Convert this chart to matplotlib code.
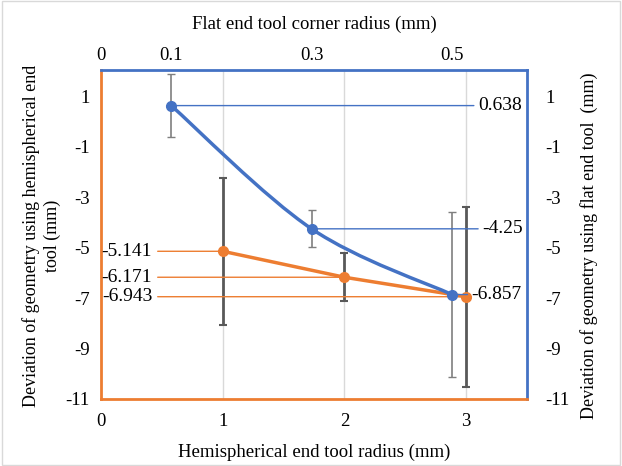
import matplotlib.pyplot as plt
from matplotlib.path import Path
from matplotlib.patches import PathPatch, Rectangle

plt.rcParams["font.family"] = ["Liberation Serif", "DejaVu Serif"]
plt.rcParams["axes.unicode_minus"] = False

# Data
hemi_radius = [1, 2, 3]
hemi_dev = [-5.141, -6.171, -6.943]
hemi_err = [2.92, 0.96, 3.57]

flat_radius = [0.1, 0.3, 0.5]
flat_dev = [0.638, -4.25, -6.857]
flat_err = [1.25, 0.74, 3.27]

bottom_ticks = [0, 1, 2, 3]
top_ticks = [0, 0.1, 0.3, 0.5]
y_ticks = [1, -1, -3, -5, -7, -9, -11]

blue = "#4472C4"
orange = "#ED7D31"
fs = 13.5

fig = plt.figure(figsize=(6.22, 4.66), dpi=100)
fig.patches.append(
    Rectangle((0.003, 0.003), 0.994, 0.994, transform=fig.transFigure,
              fill=False, edgecolor="#d9d9d9", linewidth=1)
)

pos = [0.1624, 0.1438, 0.6849, 0.7060]

# Hemispherical axis (bottom / left)
ax = fig.add_axes(pos)
ax.set_xlim(0, 3.5)
ax.set_ylim(-11, 2.05)
ax.set_xticks(bottom_ticks)
ax.set_yticks(y_ticks)
ax.tick_params(length=0, labelsize=fs)
ax.tick_params(axis="x", pad=10)
ax.tick_params(axis="y", pad=8)
for x in hemi_radius:
    ax.axvline(x, color="#d9d9d9", linewidth=1, zorder=0)
ax.spines["left"].set_color(orange)
ax.spines["bottom"].set_color(orange)
ax.spines["top"].set_color(blue)
ax.spines["right"].set_color(blue)
for s in ax.spines.values():
    s.set_linewidth(2)

ax.errorbar(hemi_radius, hemi_dev, yerr=hemi_err, fmt="none",
            ecolor="#595959", elinewidth=2, capsize=3, capthick=1.5, zorder=2)
ax.plot(hemi_radius, hemi_dev, color=orange, linewidth=2.5,
        marker="o", markersize=7, zorder=3)

for x, y in zip(hemi_radius, hemi_dev):
    ax.annotate(f"{y}", xy=(x, y), xytext=(0.12, y),
                xycoords="data", textcoords=("axes fraction", "data"),
                ha="right", va="center", fontsize=14,
                arrowprops=dict(arrowstyle="-", color=orange, lw=1,
                                shrinkA=2, shrinkB=0))

ax.set_xlabel("Hemispherical end tool radius (mm)", fontsize=fs, labelpad=10)
ax.set_ylabel("Deviation of geometry using hemispherical end\ntool (mm)",
              fontsize=13, linespacing=1.3)
ax.yaxis.set_label_coords(-0.094, 0.495)

# Flat end axis (top / right)
ax2 = fig.add_axes(pos, frameon=False)
ax2.set_xlim(0, 0.607)
ax2.set_ylim(-11, 2.05)
ax2.set_xticks(top_ticks)
ax2.set_xticklabels([f"{t:g}" for t in top_ticks])
ax2.set_yticks(y_ticks)
ax2.xaxis.tick_top()
ax2.xaxis.set_label_position("top")
ax2.yaxis.tick_right()
ax2.yaxis.set_label_position("right")
ax2.tick_params(length=0, labelsize=fs)
ax2.tick_params(axis="x", pad=4)
ax2.tick_params(axis="y", pad=13)

ax2.errorbar(flat_radius, flat_dev, yerr=flat_err, fmt="none",
             ecolor="#7f7f7f", elinewidth=1.2, capsize=3, capthick=1, zorder=2)

# smoothed line through the points (Catmull-Rom as Bezier)
pts = list(zip(flat_radius, flat_dev))
verts = [pts[0]]
codes = [Path.MOVETO]
for i in range(len(pts) - 1):
    p0 = pts[max(i - 1, 0)]
    p1 = pts[i]
    p2 = pts[i + 1]
    p3 = pts[min(i + 2, len(pts) - 1)]
    c1 = (p1[0] + (p2[0] - p0[0]) / 6, p1[1] + (p2[1] - p0[1]) / 6)
    c2 = (p2[0] - (p3[0] - p1[0]) / 6, p2[1] - (p3[1] - p1[1]) / 6)
    verts += [c1, c2, p2]
    codes += [Path.CURVE4] * 3
ax2.add_patch(PathPatch(Path(verts, codes), fill=False, edgecolor=blue,
                        linewidth=2.5, zorder=3))
ax2.plot(flat_radius, flat_dev, linestyle="none", color=blue,
         marker="o", markersize=7, zorder=4)

label_x = [0.885, 0.895, 0.87]
for x, y, lx in zip(flat_radius, flat_dev, label_x):
    ax2.annotate(f"{y}", xy=(x, y), xytext=(lx, y),
                 xycoords="data", textcoords=("axes fraction", "data"),
                 ha="left", va="center", fontsize=14,
                 arrowprops=dict(arrowstyle="-", color=blue, lw=1,
                                 shrinkA=1, shrinkB=0))

ax2.set_xlabel("Flat end tool corner radius (mm)", fontsize=fs, labelpad=13)
ax2.set_ylabel("Deviation of geometry using flat end tool  (mm)",
               fontsize=13, rotation=90)
ax2.yaxis.set_label_coords(1.125, 0.465)

plt.savefig("out.png", dpi=100)
